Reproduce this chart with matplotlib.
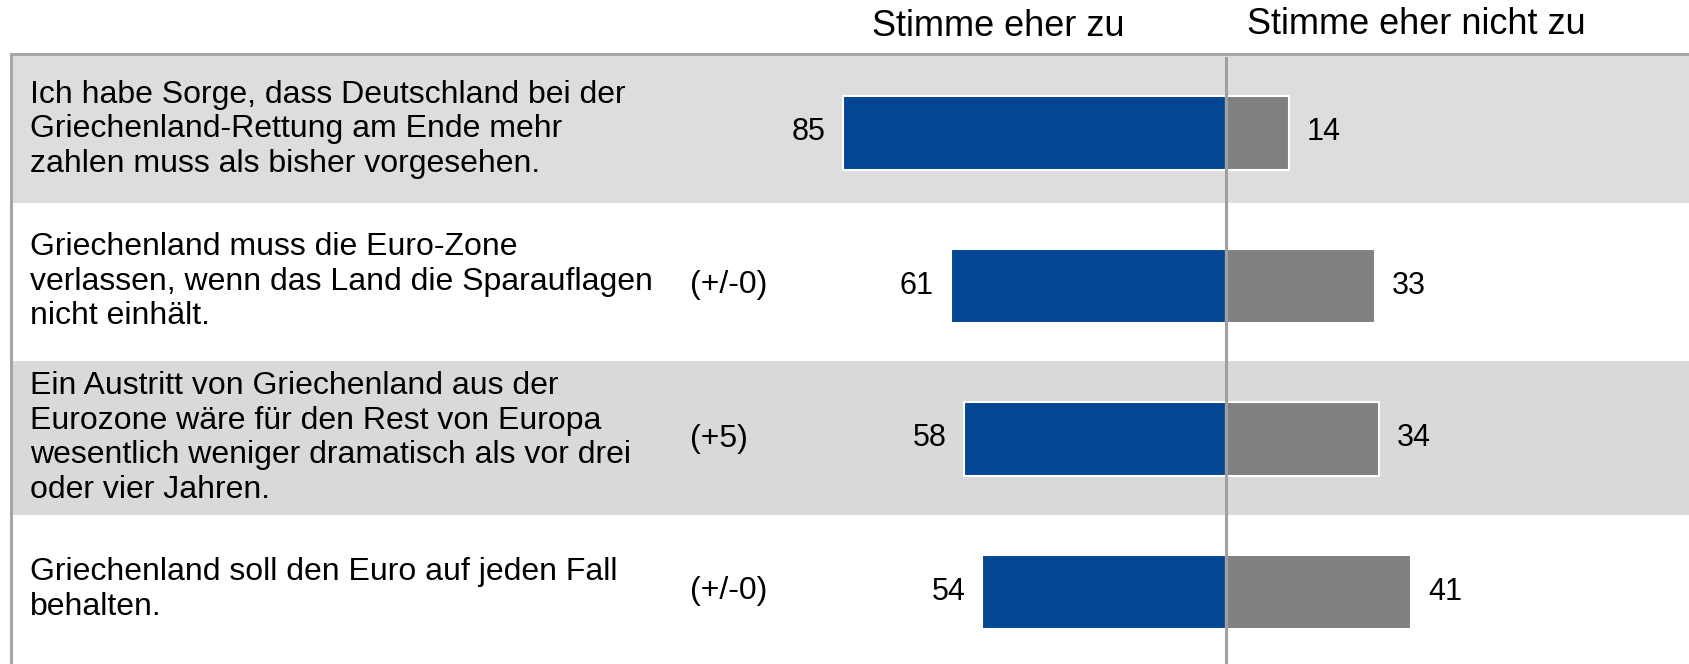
import matplotlib
matplotlib.use("Agg")
import matplotlib.pyplot as plt

plt.rcParams['font.family'] = ['Liberation Sans', 'DejaVu Sans']

statements = [
    "Ich habe Sorge, dass Deutschland bei der\nGriechenland-Rettung am Ende mehr\nzahlen muss als bisher vorgesehen.",
    "Griechenland muss die Euro-Zone\nverlassen, wenn das Land die Sparauflagen\nnicht einhält.",
    "Ein Austritt von Griechenland aus der\nEurozone wäre für den Rest von Europa\nwesentlich weniger dramatisch als vor drei\noder vier Jahren.",
    "Griechenland soll den Euro auf jeden Fall\nbehalten.",
]
changes = ["", "(+/-0)", "(+5)", "(+/-0)"]
agree = [85, 61, 58, 54]
disagree = [14, 33, 34, 41]
header_agree = "Stimme eher zu"
header_disagree = "Stimme eher nicht zu"

W, H = 1689, 664
fig = plt.figure(figsize=(W / 100, H / 100), dpi=100)
ax = fig.add_axes([0, 0, 1, 1])

# layout in pixel-like y units (0 at top)
center_px = 1226
ppu = 4.51
ax.set_xlim(-center_px / ppu, (W - center_px) / ppu)
ax.set_ylim(H, 0)
ax.axis('off')

band_edges = [56, 202.5, 361, 515, H]
bar_y = [132.5 + 153 * i for i in range(4)]
bar_h = 74

left_frac = 11 / W
band_colors = ['#dddddd', 'white', '#d9d9d9', 'white']
for i in range(4):
    ax.axhspan(band_edges[i], band_edges[i + 1], xmin=left_frac, xmax=1,
               color=band_colors[i], zorder=0, lw=0)

top_px = 54
ax.plot([left_frac, 1], [1 - top_px / H, 1 - top_px / H], transform=ax.transAxes,
        color='#a6a6a6', lw=2.2, zorder=1, clip_on=False)
ax.plot([left_frac, left_frac], [0, 1 - top_px / H], transform=ax.transAxes,
        color='#a6a6a6', lw=2.2, zorder=1, clip_on=False)

ax.barh(bar_y, [-a for a in agree], height=bar_h, color='#034694', edgecolor='white', lw=1.5, zorder=2)
ax.barh(bar_y, disagree, height=bar_h, color='#808080', edgecolor='white', lw=1.5, zorder=2)

ax.axvline(0, ymin=0, ymax=1 - 58 / H, color='#a0a0a0', lw=2.2, zorder=3)

off = 16 * 1.077 / ppu
fs_lab = 22
ytr = ax.get_yaxis_transform()
for i in range(4):
    ax.text(-agree[i] - off, bar_y[i], str(agree[i]), ha='right', va='center', fontsize=fs_lab, zorder=4)
    ax.text(disagree[i] + off, bar_y[i], str(disagree[i]), ha='left', va='center', fontsize=fs_lab, zorder=4)
    band_c = (band_edges[i] + band_edges[i + 1]) / 2
    ax.text(30 / W, band_c, statements[i], transform=ytr, ha='left', va='center',
            fontsize=23, linespacing=1.2, zorder=4)
    if changes[i]:
        ax.text(690 / W, bar_y[i], changes[i], transform=ytr, ha='left', va='center',
                fontsize=23, zorder=4)

ax.text(998 / W, 1 - 26 / H, header_agree, transform=ax.transAxes, ha='center', va='center', fontsize=26)
ax.text(1416 / W, 1 - 24 / H, header_disagree, transform=ax.transAxes, ha='center', va='center', fontsize=26)

fig.savefig("out.png", dpi=100)
